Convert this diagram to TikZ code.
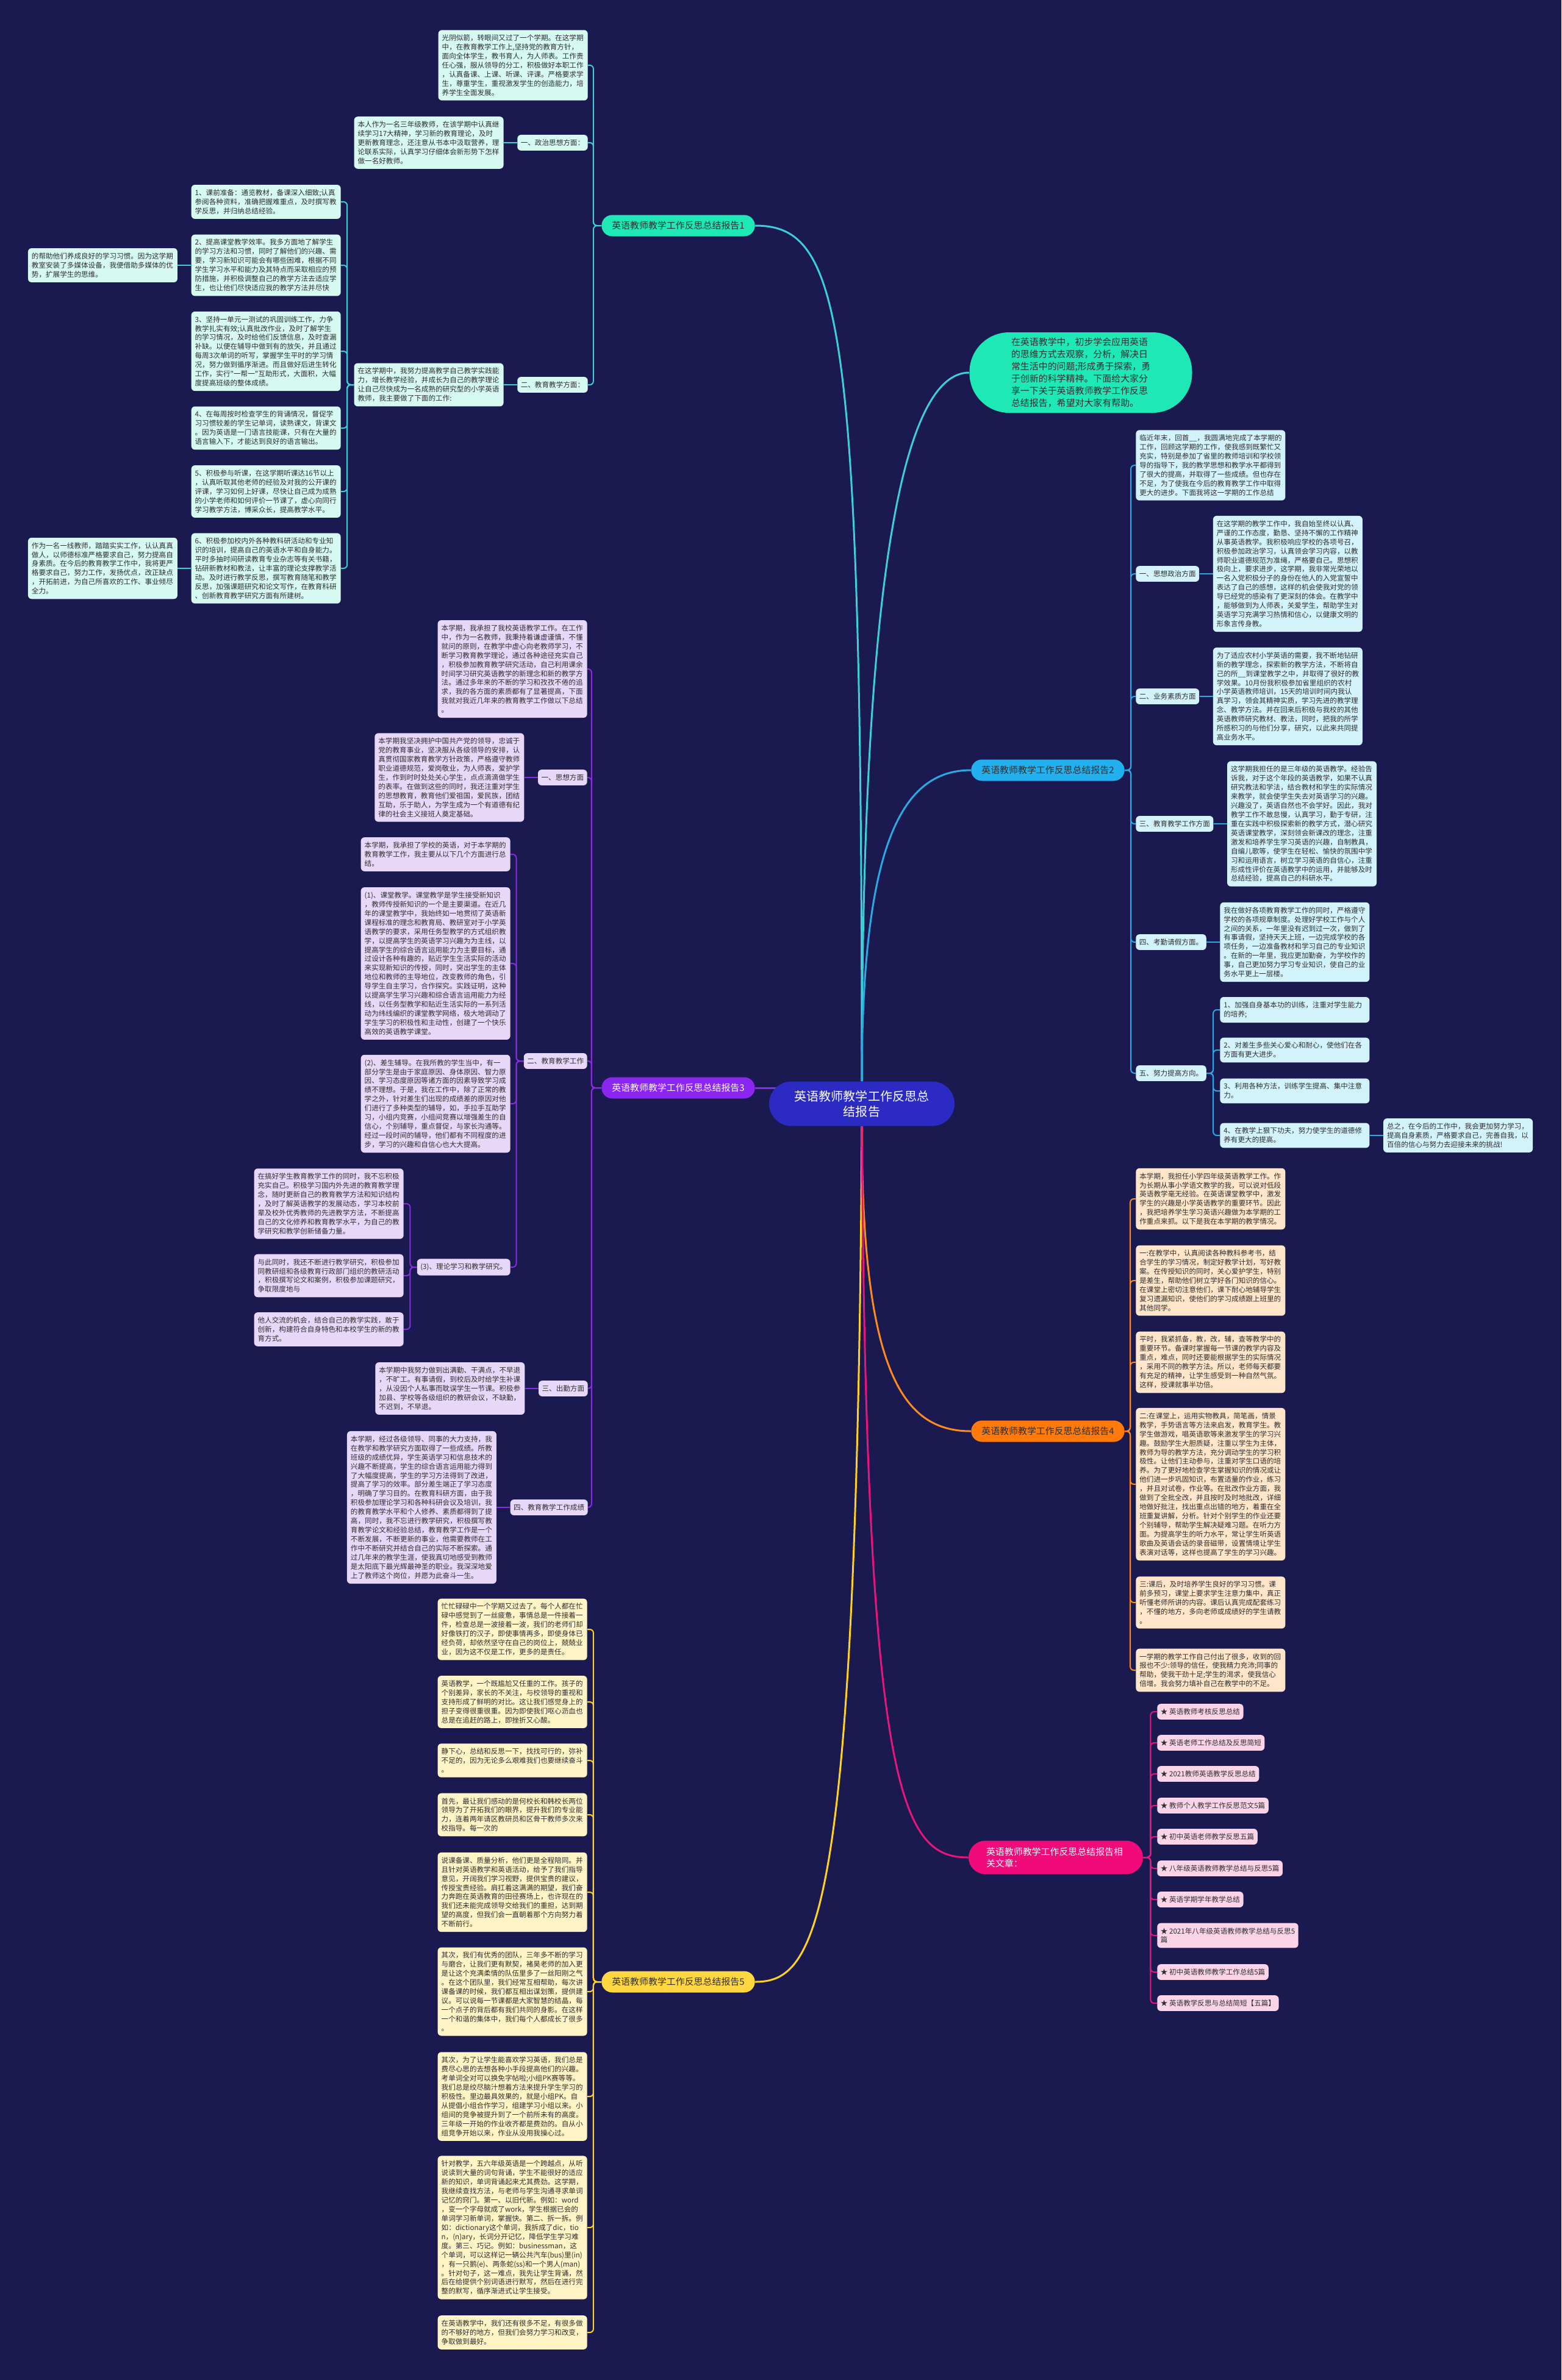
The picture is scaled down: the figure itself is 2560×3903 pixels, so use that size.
\documentclass[tikz,border=0pt]{standalone}
\usepackage{fontspec}
\newfontfamily\zhfont{Noto Sans CJK SC}
\usepackage{tikz}
\usetikzlibrary{positioning, backgrounds}

\definecolor{bgnavy}{HTML}{1A1950}
\definecolor{rootblue}{HTML}{2B2BC4}
\definecolor{inkdark}{HTML}{2E2E2E}
\definecolor{mintline}{HTML}{3CCFD6}
\definecolor{mintfill}{HTML}{1EE8B6}
\definecolor{mintcard}{HTML}{D6FAF1}
\definecolor{skyline}{HTML}{2AAAE2}
\definecolor{skyfill}{HTML}{22B0EE}
\definecolor{skycard}{HTML}{D3F3FC}
\definecolor{violetline}{HTML}{8A2BE2}
\definecolor{violetfill}{HTML}{8B25F0}
\definecolor{violetcard}{HTML}{E7D8FA}
\definecolor{orangeline}{HTML}{FF8A1F}
\definecolor{orangefill}{HTML}{FF7A0A}
\definecolor{orangecard}{HTML}{FFE5C9}
\definecolor{pinkline}{HTML}{E8157C}
\definecolor{pinkfill}{HTML}{F00A7A}
\definecolor{pinkcard}{HTML}{FCD4E7}
\definecolor{yellowline}{HTML}{FFD21F}
\definecolor{yellowfill}{HTML}{FFD740}
\definecolor{yellowcard}{HTML}{FFF4C6}

\newcommand{\leaffont}{\zhfont\fontsize{6.6pt}{8.5pt}\selectfont}
\newcommand{\topicfont}{\zhfont\fontsize{8.5pt}{10.8pt}\selectfont}
\newcommand{\introfont}{\zhfont\fontsize{8.5pt}{11.4pt}\selectfont}
\newcommand{\rootfont}{\zhfont\fontsize{11.4pt}{14.2pt}\selectfont}

\begin{document}
\begin{tikzpicture}[
    x=0.2mm, y=-0.2mm,
    node distance=4.4mm,
    every node/.style={font=\leaffont, text=inkdark},
    root/.style={rectangle, rounded corners=7.3mm, fill=rootblue, text=white, font=\rootfont, text width=45mm, align=center, minimum width=60.8mm, minimum height=14.6mm},
    topic/.style={rectangle, rounded corners=3.5mm, font=\topicfont, inner xsep=3.4mm, inner ysep=0mm, minimum height=7mm},
    leaf/.style={rectangle, rounded corners=1.2mm, text width=46.6mm, align=left, inner xsep=1.2mm, inner ysep=1.5mm},
    sublabel/.style={rectangle, rounded corners=1.2mm, inner xsep=1.1mm, inner ysep=1.5mm},
    mintleaf/.style={leaf, fill=mintcard},
    skyleaf/.style={leaf, fill=skycard},
    violetleaf/.style={leaf, fill=violetcard},
    orangeleaf/.style={leaf, fill=orangecard},
    yellowleaf/.style={leaf, fill=yellowcard},
    mintedge/.style={draw=mintline, line width=0.4mm, rounded corners=1.2mm},
    skyedge/.style={draw=skyline, line width=0.4mm, rounded corners=1.2mm},
    violetedge/.style={draw=violetline, line width=0.4mm, rounded corners=1.2mm},
    orangeedge/.style={draw=orangeline, line width=0.4mm, rounded corners=1.2mm},
    pinkedge/.style={draw=pinkline, line width=0.4mm, rounded corners=1.2mm},
    yellowedge/.style={draw=yellowline, line width=0.4mm, rounded corners=1.2mm},
    mainedge/.style={line width=0.6mm}
]
\begin{scope}[on background layer]
\fill[bgnavy] (0,0) rectangle (2560,3903);
\end{scope}
\useasboundingbox (0,0) rectangle (2560,3903);

% --- root and intro ---
\node[root] (root) at (1413,1810) {英语教师教学工作反思总\\结报告};
\node[rectangle, rounded corners=13mm, fill=mintfill, text width=45.6mm, align=left, minimum width=73mm, minimum height=26.4mm, font=\introfont] (intro) at (1772,611) {在英语教学中，初步学会应用英语\\
的思维方式去观察，分析，解决日\\
常生活中的问题;形成勇于探索，勇\\
于创新的科学精神。下面给大家分\\
享一下关于英语教师教学工作反思\\
总结报告，希望对大家有帮助。};

% --- branch labels ---
\node[topic, fill=mintfill] (b1) at (1112,370) {英语教师教学工作反思总结报告1};
\node[topic, fill=skyfill] (b2) at (1718,1263) {英语教师教学工作反思总结报告2};
\node[topic, fill=violetfill, text=white] (b3) at (1112,1784) {英语教师教学工作反思总结报告3};
\node[topic, fill=orangefill] (b4) at (1718,2347) {英语教师教学工作反思总结报告4};
\node[topic, fill=yellowfill] (b5) at (1112,3250) {英语教师教学工作反思总结报告5};
\node[topic, fill=pinkfill, text=white, text width=45.6mm, align=left, minimum width=57.2mm, minimum height=11mm, rounded corners=5.5mm] (rel) at (1731,3046) {英语教师教学工作反思总结报告相\\关文章：};

% --- branch 1 ---
\node[mintleaf, anchor=east] (sem1) at (964,107) {光阴似箭，转眼间又过了一个学期。在这学期\\
中，在教育教学工作上,坚持党的教育方针，\\
面向全体学生，教书育人，为人师表。工作责\\
任心强，服从领导的分工，积极做好本职工作\\
，认真备课、上课、听课、评课。严格要求学\\
生，尊重学生，重视激发学生的创造能力，培\\
养学生全面发展。};
\node[sublabel, fill=mintcard, anchor=east] (pol1) at (964,234) {一、政治思想方面：};
\node[mintleaf, left=of pol1] (pol1txt) {本人作为一名三年级教师，在该学期中认真继\\
续学习17大精神，学习新的教育理论，及时\\
更新教育理念，还注意从书本中汲取营养，理\\
论联系实际，认真学习仔细体会新形势下怎样\\
做一名好教师。};
\node[sublabel, fill=mintcard, anchor=east] (edu1) at (964,631) {二、教育教学方面：};
\node[mintleaf, left=of edu1] (edu1txt) {在这学期中，我努力提高教学自己教学实践能\\
力，增长教学经验，并成长为自己的教学理论\\
让自己尽快成为一名成熟的研究型的小学英语\\
教师，我主要做了下面的工作:};
\node[mintleaf, anchor=east] (work1) at (559,331) {1、课前准备：通览教材，备课深入细致;认真\\
参阅各种资料，准确把握难重点，及时撰写教\\
学反思，并归纳总结经验。};
\node[mintleaf, anchor=east] (work2) at (559,435) {2、提高课堂教学效率。我多方面地了解学生\\
的学习方法和习惯，同时了解他们的兴趣、需\\
要，学习新知识可能会有哪些困难，根据不同\\
学生学习水平和能力及其特点而采取相应的预\\
防措施，并积极调整自己的教学方法去适应学\\
生，也让他们尽快适应我的教学方法并尽快};
\node[mintleaf, left=of work2] (work2b) {的帮助他们养成良好的学习习惯。因为这学期\\
教室安装了多媒体设备，我便借助多媒体的优\\
势，扩展学生的思维。};
\node[mintleaf, anchor=east] (work3) at (559,576) {3、坚持一单元一测试的巩固训练工作，力争\\
教学扎实有效;认真批改作业，及时了解学生\\
的学习情况，及时给他们反馈信息，及时查漏\\
补缺。以便在辅导中做到有的放矢，并且通过\\
每周3次单词的听写，掌握学生平时的学习情\\
况，努力做到循序渐进。而且做好后进生转化\\
工作，实行"一帮一"互助形式，大面积，大幅\\
度提高班级的整体成绩。};
\node[mintleaf, anchor=east] (work4) at (559,702) {4、在每周按时检查学生的背诵情况，督促学\\
习习惯较差的学生记单词，读熟课文，背课文\\
。因为英语是一门语言技能课，只有在大量的\\
语言输入下，才能达到良好的语言输出。};
\node[mintleaf, anchor=east] (work5) at (559,806) {5、积极参与听课，在这学期听课达16节以上\\
，认真听取其他老师的经验及对我的公开课的\\
评课，学习如何上好课，尽快让自己成为成熟\\
的小学老师和如何评价一节课了，虚心向同行\\
学习教学方法，博采众长，提高教学水平。};
\node[mintleaf, anchor=east] (work6) at (559,932) {6、积极参加校内外各种教科研活动和专业知\\
识的培训，提高自己的英语水平和自身能力。\\
平时多抽时间研读教育专业杂志等有关书籍，\\
钻研新教材和教法，让丰富的理论支撑教学活\\
动。及时进行教学反思，撰写教育随笔和教学\\
反思，加强课题研究和论文写作，在教育科研\\
、创新教育教学研究方面有所建树。};
\node[mintleaf, left=of work6] (work6b) {作为一名一线教师，踏踏实实工作，认认真真\\
做人，以师德标准严格要求自己，努力提高自\\
身素质。在今后的教育教学工作中，我将更严\\
格要求自己，努力工作，发扬优点，改正缺点\\
，开拓前进，为自己所喜欢的工作、事业倾尽\\
全力。};

% --- branch 2 ---
\node[skyleaf, anchor=west] (end2) at (1862,763) {临近年末，回首\_\_，我圆满地完成了本学期的\\
工作，回顾这学期的工作，使我感到既繁忙又\\
充实，特别是参加了省里的教师培训和学校领\\
导的指导下，我的教学思想和教学水平都得到\\
了很大的提高，并取得了一些成绩。但也存在\\
不足，为了使我在今后的教育教学工作中取得\\
更大的进步。下面我将这一学期的工作总结};
\node[sublabel, fill=skycard, anchor=west] (pol2) at (1862,941) {一、思想政治方面};
\node[skyleaf, right=of pol2] (pol2txt) {在这学期的教学工作中，我自始至终以认真、\\
严谨的工作态度，勤恳、坚持不懈的工作精神\\
从事英语教学。我积极响应学校的各项号召，\\
积极参加政治学习，认真领会学习内容，以教\\
师职业道德规范为准绳，严格要自己。思想积\\
极向上，要求进步，这学期，我非常光荣地以\\
一名入党积极分子的身份在他人的入党宣誓中\\
表达了自己的感想，这样的机会使我对党的领\\
导已经党的感染有了更深刻的体会。在教学中\\
，能够做到为人师表，关爱学生，帮助学生对\\
英语学习充满学习热情和信心，以健康文明的\\
形象言传身教。};
\node[sublabel, fill=skycard, anchor=west] (biz2) at (1862,1142) {二、业务素质方面};
\node[skyleaf, right=of biz2] (biz2txt) {为了适应农村小学英语的需要，我不断地钻研\\
新的教学理念，探索新的教学方法，不断将自\\
己的所\_\_到课堂教学之中，并取得了很好的教\\
学效果。10月份我积极参加省里组织的农村\\
小学英语教师培训，15天的培训时间内我认\\
真学习，领会其精神实质，学习先进的教学理\\
念、教学方法。并在回来后积极与我校的其他\\
英语教师研究教材、教法，同时，把我的所学\\
所感积习的与他们分享，研究，以此来共同提\\
高业务水平。};
\node[sublabel, fill=skycard, anchor=west] (edu2) at (1862,1351) {三、教育教学工作方面};
\node[skyleaf, right=of edu2] (edu2txt) {这学期我担任的是三年级的英语教学。经验告\\
诉我，对于这个年段的英语教学，如果不认真\\
研究教法和学法，结合教材和学生的实际情况\\
来教学，就会使学生失去对英语学习的兴趣。\\
兴趣没了，英语自然也不会学好。因此，我对\\
教学工作不敢怠慢，认真学习，勤于专研，注\\
重在实践中积极探索新的教学方式，潜心研究\\
英语课堂教学，深刻领会新课改的理念，注重\\
激发和培养学生学习英语的兴趣，自制教具，\\
自编儿歌等，使学生在轻松、愉快的氛围中学\\
习和运用语言，树立学习英语的自信心，注重\\
形成性评价在英语教学中的运用，并能够及时\\
总结经验，提高自己的科研水平。};
\node[sublabel, fill=skycard, anchor=west] (att2) at (1862,1545) {四、考勤请假方面。};
\node[skyleaf, right=of att2] (att2txt) {我在做好各项教育教学工作的同时，严格遵守\\
学校的各项规章制度。处理好学校工作与个人\\
之间的关系，一年里没有迟到过一次，做到了\\
有事请假，坚持天天上班，一边完成学校的各\\
项任务，一边准备教材和学习自己的专业知识\\
。在新的一年里，我应更加勤奋，为学校作的\\
事，自己更加努力学习专业知识，使自己的业\\
务水平更上一层楼。};
\node[sublabel, fill=skycard, anchor=west] (aim2) at (1862,1760) {五、努力提高方向。};
\node[skyleaf, anchor=west] (aim2a) at (2000,1656) {1、加强自身基本功的训练，注重对学生能力\\
的培养;};
\node[skyleaf, anchor=west] (aim2b) at (2000,1722) {2、对差生多些关心爱心和耐心，使他们在各\\
方面有更大进步。};
\node[skyleaf, anchor=west] (aim2c) at (2000,1789) {3、利用各种方法，训练学生提高、集中注意\\
力。};
\node[skyleaf, anchor=west] (aim2d) at (2000,1862) {4、在教学上狠下功夫，努力使学生的道德修\\
养有更大的提高。};
\node[skyleaf, right=of aim2d] (aim2e) {总之，在今后的工作中，我会更加努力学习，\\
提高自身素质，严格要求自己，完善自我，以\\
百倍的信心与努力去迎接未来的挑战!};

% --- branch 3 ---
\node[violetleaf, anchor=east] (sem3) at (963,1097) {本学期，我承担了我校英语教学工作。在工作\\
中，作为一名教师，我秉持着谦虚谨慎，不懂\\
就问的原则，在教学中虚心向老教师学习，不\\
断学习教育教学理论，通过各种途径充实自己\\
，积极参加教育教学研究活动，自己利用课余\\
时间学习研究英语教学的新理念和新的教学方\\
法。通过多年来的不断的学习和孜孜不倦的追\\
求，我的各方面的素质都有了显著提高，下面\\
我就对我近几年来的教育教学工作做以下总结\\
。};
\node[sublabel, fill=violetcard, anchor=east] (idea3) at (963,1275) {一、思想方面};
\node[violetleaf, left=of idea3] (idea3txt) {本学期我坚决拥护中国共产党的领导，忠诚于\\
党的教育事业，坚决服从各级领导的安排，认\\
真贯彻国家教育教学方针政策，严格遵守教师\\
职业道德规范，爱岗敬业，为人师表，爱护学\\
生，作到时时处处关心学生，点点滴滴做学生\\
的表率。在做到这些的同时，我还注重对学生\\
的思想教育，教育他们爱祖国，爱民族，团结\\
互助，乐于助人，为学生成为一个有道德有纪\\
律的社会主义接班人奠定基础。};
\node[sublabel, fill=violetcard, anchor=east] (edu3) at (963,1740) {二、教育教学工作};
\node[violetleaf, anchor=east] (edu3a) at (837,1401) {本学期，我承担了学校的英语，对于本学期的\\
教育教学工作，我主要从以下几个方面进行总\\
结。};
\node[violetleaf, anchor=east] (edu3b) at (837,1580) {(1)、课堂教学。课堂教学是学生接受新知识\\
，教师传授新知识的一个是主要渠道。在近几\\
年的课堂教学中，我始终如一地贯彻了英语新\\
课程标准的理念和教育局、教研室对于小学英\\
语教学的要求，采用任务型教学的方式组织教\\
学，以提高学生的英语学习兴趣为为主线，以\\
提高学生的综合语言运用能力为主要目标，通\\
过设计各种有趣的，贴近学生生活实际的活动\\
来实现新知识的传授，同时，突出学生的主体\\
地位和教师的主导地位，改变教师的角色，引\\
导学生自主学习，合作探究。实践证明，这种\\
以提高学生学习兴趣和综合语言运用能力为经\\
线，以任务型教学和贴近生活实际的一系列活\\
动为纬线编织的课堂教学网络，极大地调动了\\
学生学习的积极性和主动性，创建了一个快乐\\
高效的英语教学课堂。};
\node[violetleaf, anchor=east] (edu3c) at (837,1810) {(2)、差生辅导。在我所教的学生当中，有一\\
部分学生是由于家庭原因、身体原因、智力原\\
因、学习态度原因等诸方面的因素导致学习成\\
绩不理想。于是，我在工作中，除了正常的教\\
学之外，针对差生们出现的成绩差的原因对他\\
们进行了多种类型的辅导，如，手拉手互助学\\
习，小组内竞赛，小组间竞赛以增强差生的自\\
信心，个别辅导，重点督促，与家长沟通等。\\
经过一段时间的辅导，他们都有不同程度的进\\
步，学习的兴趣和自信心也大大提高。};
\node[sublabel, fill=violetcard, anchor=east] (res3) at (837,2078) {(3)、理论学习和教学研究。};
\node[violetleaf, anchor=east] (res3a) at (662,1974) {在搞好学生教育教学工作的同时，我不忘积极\\
充实自己。积极学习国内外先进的教育教学理\\
念，随时更新自己的教育教学方法和知识结构\\
，及时了解英语教学的发展动态，学习本校前\\
辈及校外优秀教师的先进教学方法，不断提高\\
自己的文化修养和教育教学水平，为自己的教\\
学研究和教学创新储备力量。};
\node[violetleaf, anchor=east] (res3b) at (662,2092) {与此同时，我还不断进行教学研究，积极参加\\
同教研组和各级教育行政部门组织的教研活动\\
，积极撰写论文和案例，积极参加课题研究，\\
争取限度地与};
\node[violetleaf, anchor=east] (res3c) at (662,2180) {他人交流的机会，结合自己的教学实践，敢于\\
创新，构建符合自身特色和本校学生的新的教\\
育方式。};
\node[sublabel, fill=violetcard, anchor=east] (att3) at (964,2277) {三、出勤方面};
\node[violetleaf, left=of att3] (att3txt) {本学期中我努力做到出满勤、干满点，不早退\\
，不旷工。有事请假，到校后及时给学生补课\\
，从没因个人私事而耽误学生一节课。积极参\\
加县、学校等各级组织的教研会议，不缺勤，\\
不迟到，不早退。};
\node[sublabel, fill=violetcard, anchor=east] (ach3) at (964,2472) {四、教育教学工作成绩};
\node[violetleaf, left=of ach3] (ach3txt) {本学期，经过各级领导、同事的大力支持，我\\
在教学和教学研究方面取得了一些成绩。所教\\
班级的成绩优异，学生英语学习和信息技术的\\
兴趣不断提高，学生的综合语言运用能力得到\\
了大幅度提高，学生的学习方法得到了改进，\\
提高了学习的效率。部分差生端正了学习态度\\
，明确了学习目的。在教育科研方面，由于我\\
积极参加理论学习和各种科研会议及培训，我\\
的教育教学水平和个人修养、素质都得到了提\\
高，同时，我不忘进行教学研究，积极撰写教\\
育教学论文和经验总结，教育教学工作是一个\\
不断发展，不断更新的事业，他需要教师在工\\
作中不断研究并结合自己的实际不断探索。通\\
过几年来的教学生涯，使我真切地感受到教师\\
是太阳底下最光辉最神圣的职业。我深深地爱\\
上了教师这个岗位，并愿为此奋斗一生。};

% --- branch 4 ---
\node[orangeleaf, anchor=west] (sem4) at (1862,1966) {本学期，我担任小学四年级英语教学工作。作\\
为长期从事小学语文教学的我，可以说对低段\\
英语教学毫无经验。在英语课堂教学中，激发\\
学生的兴趣是小学英语教学的重要环节。因此\\
，我把培养学生学习英语兴趣做为本学期的工\\
作重点来抓。以下是我在本学期的教学情况。};
\node[orangeleaf, anchor=west] (plan4) at (1862,2100) {一:在教学中，认真阅读各种教科参考书，结\\
合学生的学习情况，制定好教学计划，写好教\\
案。在传授知识的同时，关心爱护学生，特别\\
是差生，帮助他们树立学好各门知识的信心。\\
在课堂上密切注意他们，课下耐心地辅导学生\\
复习遗漏知识，使他们的学习成绩跟上班里的\\
其他同学。};
\node[orangeleaf, anchor=west] (key4) at (1862,2234) {平时，我紧抓备，教，改，辅，查等教学中的\\
重要环节。备课时掌握每一节课的教学内容及\\
重点，难点，同时还要能根据学生的实际情况\\
，采用不同的教学方法。所以，老师每天都要\\
有充足的精神，让学生感受到一种自然气氛。\\
这样，授课就事半功倍。};
\node[orangeleaf, anchor=west] (class4) at (1862,2434) {二:在课堂上，运用实物教具，简笔画，情景\\
教学，手势语言等方法来启发，教育学生。教\\
学生做游戏，唱英语歌等来激发学生的学习兴\\
趣。鼓励学生大胆质疑，注重以学生为主体，\\
教师为导的教学方法，充分调动学生的学习积\\
极性。让他们主动参与，注重对学生口语的培\\
养。为了更好地检查学生掌握知识的情况或让\\
他们进一步巩固知识，布置适量的作业，练习\\
，并且对试卷，作业等。在批改作业方面，我\\
做到了全批全改，并且按时及时地批改，详细\\
地做好批注，找出重点出错的地方，着重在全\\
班重复讲解，分析。针对个别学生的作业还要\\
个别辅导，帮助学生解决疑难习题。在听力方\\
面。为提高学生的听力水平，常让学生听英语\\
歌曲及英语会话的录音磁带，设置情境让学生\\
表演对话等，这样也提高了学生的学习兴趣。};
\node[orangeleaf, anchor=west] (after4) at (1862,2628) {三:课后，及时培养学生良好的学习习惯。课\\
前多预习，课堂上要求学生注意力集中，真正\\
听懂老师所讲的内容。课后认真完成配套练习\\
，不懂的地方，多向老师或成绩好的学生请教\\
。};
\node[orangeleaf, anchor=west] (end4) at (1862,2739) {一学期的教学工作自己付出了很多，收到的回\\
报也不少:领导的信任，使我精力充沛;同事的\\
帮助，使我干劲十足;学生的渴求，使我信心\\
倍增。我会努力填补自己在教学中的不足。};

% --- related articles ---
\node[sublabel, fill=pinkcard, anchor=west] (art1) at (1897,2807) {★ 英语教师考核反思总结};
\node[sublabel, fill=pinkcard, anchor=west] (art2) at (1897,2858) {★ 英语老师工作总结及反思简短};
\node[sublabel, fill=pinkcard, anchor=west] (art3) at (1897,2909) {★ 2021教师英语教学反思总结};
\node[sublabel, fill=pinkcard, anchor=west] (art4) at (1897,2961) {★ 教师个人教学工作反思范文5篇};
\node[sublabel, fill=pinkcard, anchor=west] (art5) at (1897,3012) {★ 初中英语老师教学反思五篇};
\node[sublabel, fill=pinkcard, anchor=west] (art6) at (1897,3064) {★ 八年级英语教师教学总结与反思5篇};
\node[sublabel, fill=pinkcard, anchor=west] (art7) at (1897,3115) {★ 英语学期学年教学总结};
\node[sublabel, fill=pinkcard, anchor=west, align=left] (art8) at (1897,3174) {★ 2021年八年级英语教师教学总结与反思5\\篇};
\node[sublabel, fill=pinkcard, anchor=west] (art9) at (1897,3234) {★ 初中英语教师教学工作总结5篇};
\node[sublabel, fill=pinkcard, anchor=west] (art10) at (1897,3285) {★ 英语教学反思与总结简短【五篇】};

% --- branch 5 ---
\node[yellowleaf, anchor=east] (busy5) at (963,2672) {忙忙碌碌中一个学期又过去了。每个人都在忙\\
碌中感觉到了一丝疲惫，事情总是一件接着一\\
件，检查总是一波接着一波，我们的老师们却\\
好像铁打的汉子，即使事情再多，即使身体已\\
经负荷，却依然坚守在自己的岗位上，兢兢业\\
业，因为这不仅是工作，更多的是责任。};
\node[yellowleaf, anchor=east] (hard5) at (963,2791) {英语教学，一个既尴尬又任重的工作。孩子的\\
个别差异，家长的不关注，与校领导的重视和\\
支持形成了鲜明的对比。这让我们感觉身上的\\
担子变得很重很重。因为即使我们呕心沥血也\\
总是在追赶的路上，即挫折又心酸。};
\node[yellowleaf, anchor=east] (calm5) at (963,2887) {静下心，总结和反思一下，找找可行的，弥补\\
不足的，因为无论多么艰难我们也要继续奋斗\\
。};
\node[yellowleaf, anchor=east] (lead5) at (963,2976) {首先，最让我们感动的是何校长和韩校长两位\\
领导为了开拓我们的眼界，提升我们的专业能\\
力，连着两年请区教研员和区骨干教师多次来\\
校指导。每一次的};
\node[yellowleaf, anchor=east] (lead5b) at (963,3103) {说课备课、质量分析，他们更是全程陪同。并\\
且针对英语教学和英语活动，给予了我们指导\\
意见，开阔我们学习视野，提供宝贵的建议，\\
传授宝贵经验。肩扛着这满满的期望，我们奋\\
力奔跑在英语教育的田径赛场上，也许现在的\\
我们还未能完成领导交给我们的重担，达到期\\
望的高度，但我们会一直朝着那个方向努力着\\
不断前行。};
\node[yellowleaf, anchor=east] (team5) at (963,3266) {其次，我们有优秀的团队，三年多不断的学习\\
与磨合，让我们更有默契，褚昊老师的加入更\\
是让这个充满柔情的队伍里多了一丝阳刚之气\\
。在这个团队里，我们经常互相帮助，每次讲\\
课备课的时候，我们都互相出谋划策，提供建\\
议。可以说每一节课都是大家智慧的结晶，每\\
一个点子的背后都有我们共同的身影。在这样\\
一个和谐的集体中，我们每个人都成长了很多\\
。};
\node[yellowleaf, anchor=east] (fun5) at (963,3438) {其次，为了让学生能喜欢学习英语，我们总是\\
费尽心思的去想各种小手段提高他们的兴趣。\\
考单词全对可以换免字帖啦;小组PK赛等等。\\
我们总是绞尽脑汁想着方法来提升学生学习的\\
积极性。里边最具效果的，就是小组PK。自\\
从提倡小组合作学习，组建学习小组以来。小\\
组间的竞争被提升到了一个前所未有的高度。\\
三年级一开始的作业收齐都是费劲的。自从小\\
组竞争开始以来，作业从没用我操心过。};
\node[yellowleaf, anchor=east] (word5) at (963,3653) {针对教学，五六年级英语是一个跨越点，从听\\
说读到大量的词句背诵，学生不能很好的适应\\
新的知识，单词背诵起来尤其费劲。这学期，\\
我继续查找方法，与老师与学生沟通寻求单词\\
记忆的窍门。第一、以旧代新。例如：word\\
，变一个字母就成了work，学生根据已会的\\
单词学习新单词，掌握快。第二、拆一拆。例\\
如：dictionary这个单词，我拆成了dic，tio\\
n，(n)ary，长词分开记忆，降低学生学习难\\
度。第三、巧记。例如：businessman，这\\
个单词，可以这样记一辆公共汽车(bus)里(in)\\
，有一只鹅(e)、两条蛇(ss)和一个男人(man)\\
。针对句子，这一难点，我先让学生背诵，然\\
后在给提供个别词语进行默写，然后在进行完\\
整的默写，循序渐进式让学生接受。};
\node[yellowleaf, anchor=east] (last5) at (963,3825) {在英语教学中，我们还有很多不足，有很多做\\
的不够好的地方，但我们会努力学习和改变，\\
争取做到最好。};

% --- connections ---
\begin{scope}[on background layer]
% root to branches
\draw[mintedge, mainedge] (root.north) .. controls (1413,520) and (1380,370) .. (b1.east);
\draw[mintedge, mainedge] (root.north) .. controls (1413,950) and (1480,611) .. (intro.west);
\draw[skyedge, mainedge] (root.north) .. controls (1413,1380) and (1480,1263) .. (b2.west);
\draw[violetedge, mainedge] (b3.east) -- (root.center |- b3.east);
\draw[orangeedge, mainedge] (root.south) .. controls (1413,2250) and (1480,2347) .. (b4.west);
\draw[yellowedge, mainedge] (root.south) .. controls (1405,3150) and (1340,3250) .. (b5.east);
\draw[pinkedge, mainedge] (root.south) .. controls (1420,2950) and (1480,3046) .. (rel.west);

% branch 1
\draw[mintedge] (b1.west) -- ++(-13,0) |- (sem1.east);
\draw[mintedge] (b1.west) -- ++(-13,0) |- (pol1.east);
\draw[mintedge] (b1.west) -- ++(-13,0) |- (edu1.east);
\draw[mintedge] (pol1) -- (pol1txt);
\draw[mintedge] (edu1) -- (edu1txt);
\draw[mintedge] (edu1txt.west) -- ++(-11,0) |- (work1.east);
\draw[mintedge] (edu1txt.west) -- ++(-11,0) |- (work2.east);
\draw[mintedge] (edu1txt.west) -- ++(-11,0) |- (work3.east);
\draw[mintedge] (edu1txt.west) -- ++(-11,0) |- (work4.east);
\draw[mintedge] (edu1txt.west) -- ++(-11,0) |- (work5.east);
\draw[mintedge] (edu1txt.west) -- ++(-11,0) |- (work6.east);
\draw[mintedge] (work2) -- (work2b);
\draw[mintedge] (work6) -- (work6b);

% branch 2
\draw[skyedge] (b2.east) -- ++(10,0) |- (end2.west);
\draw[skyedge] (b2.east) -- ++(10,0) |- (pol2.west);
\draw[skyedge] (b2.east) -- ++(10,0) |- (biz2.west);
\draw[skyedge] (b2.east) -- ++(10,0) |- (edu2.west);
\draw[skyedge] (b2.east) -- ++(10,0) |- (att2.west);
\draw[skyedge] (b2.east) -- ++(10,0) |- (aim2.west);
\draw[skyedge] (pol2) -- (pol2txt);
\draw[skyedge] (biz2) -- (biz2txt);
\draw[skyedge] (edu2) -- (edu2txt);
\draw[skyedge] (att2) -- (att2txt);
\draw[skyedge] (aim2.east) -- ++(11,0) |- (aim2a.west);
\draw[skyedge] (aim2.east) -- ++(11,0) |- (aim2b.west);
\draw[skyedge] (aim2.east) -- ++(11,0) |- (aim2c.west);
\draw[skyedge] (aim2.east) -- ++(11,0) |- (aim2d.west);
\draw[skyedge] (aim2d) -- (aim2e);

% branch 3
\draw[violetedge] (b3.west) -- ++(-16,0) |- (sem3.east);
\draw[violetedge] (b3.west) -- ++(-16,0) |- (idea3.east);
\draw[violetedge] (b3.west) -- ++(-16,0) |- (edu3.east);
\draw[violetedge] (b3.west) -- ++(-16,0) |- (att3.east);
\draw[violetedge] (b3.west) -- ++(-16,0) |- (ach3.east);
\draw[violetedge] (idea3) -- (idea3txt);
\draw[violetedge] (edu3.west) -- ++(-12,0) |- (edu3a.east);
\draw[violetedge] (edu3.west) -- ++(-12,0) |- (edu3b.east);
\draw[violetedge] (edu3.west) -- ++(-12,0) |- (edu3c.east);
\draw[violetedge] (edu3.west) -- ++(-12,0) |- (res3.east);
\draw[violetedge] (res3.west) -- ++(-11,0) |- (res3a.east);
\draw[violetedge] (res3.west) -- ++(-11,0) |- (res3b.east);
\draw[violetedge] (res3.west) -- ++(-11,0) |- (res3c.east);
\draw[violetedge] (att3) -- (att3txt);
\draw[violetedge] (ach3) -- (ach3txt);

% branch 4
\draw[orangeedge] (b4.east) -- ++(9,0) |- (sem4.west);
\draw[orangeedge] (b4.east) -- ++(9,0) |- (plan4.west);
\draw[orangeedge] (b4.east) -- ++(9,0) |- (key4.west);
\draw[orangeedge] (b4.east) -- ++(9,0) |- (class4.west);
\draw[orangeedge] (b4.east) -- ++(9,0) |- (after4.west);
\draw[orangeedge] (b4.east) -- ++(9,0) |- (end4.west);

% related articles
\draw[pinkedge] (rel.east) -- ++(12,0) |- (art1.west);
\draw[pinkedge] (rel.east) -- ++(12,0) |- (art2.west);
\draw[pinkedge] (rel.east) -- ++(12,0) |- (art3.west);
\draw[pinkedge] (rel.east) -- ++(12,0) |- (art4.west);
\draw[pinkedge] (rel.east) -- ++(12,0) |- (art5.west);
\draw[pinkedge] (rel.east) -- ++(12,0) |- (art6.west);
\draw[pinkedge] (rel.east) -- ++(12,0) |- (art7.west);
\draw[pinkedge] (rel.east) -- ++(12,0) |- (art8.west);
\draw[pinkedge] (rel.east) -- ++(12,0) |- (art9.west);
\draw[pinkedge] (rel.east) -- ++(12,0) |- (art10.west);

% branch 5
\draw[yellowedge] (b5.west) -- ++(-13,0) |- (busy5.east);
\draw[yellowedge] (b5.west) -- ++(-13,0) |- (hard5.east);
\draw[yellowedge] (b5.west) -- ++(-13,0) |- (calm5.east);
\draw[yellowedge] (b5.west) -- ++(-13,0) |- (lead5.east);
\draw[yellowedge] (b5.west) -- ++(-13,0) |- (lead5b.east);
\draw[yellowedge] (b5.west) -- ++(-13,0) |- (team5.east);
\draw[yellowedge] (b5.west) -- ++(-13,0) |- (fun5.east);
\draw[yellowedge] (b5.west) -- ++(-13,0) |- (word5.east);
\draw[yellowedge] (b5.west) -- ++(-13,0) |- (last5.east);
\end{scope}
\end{tikzpicture}
\end{document}
